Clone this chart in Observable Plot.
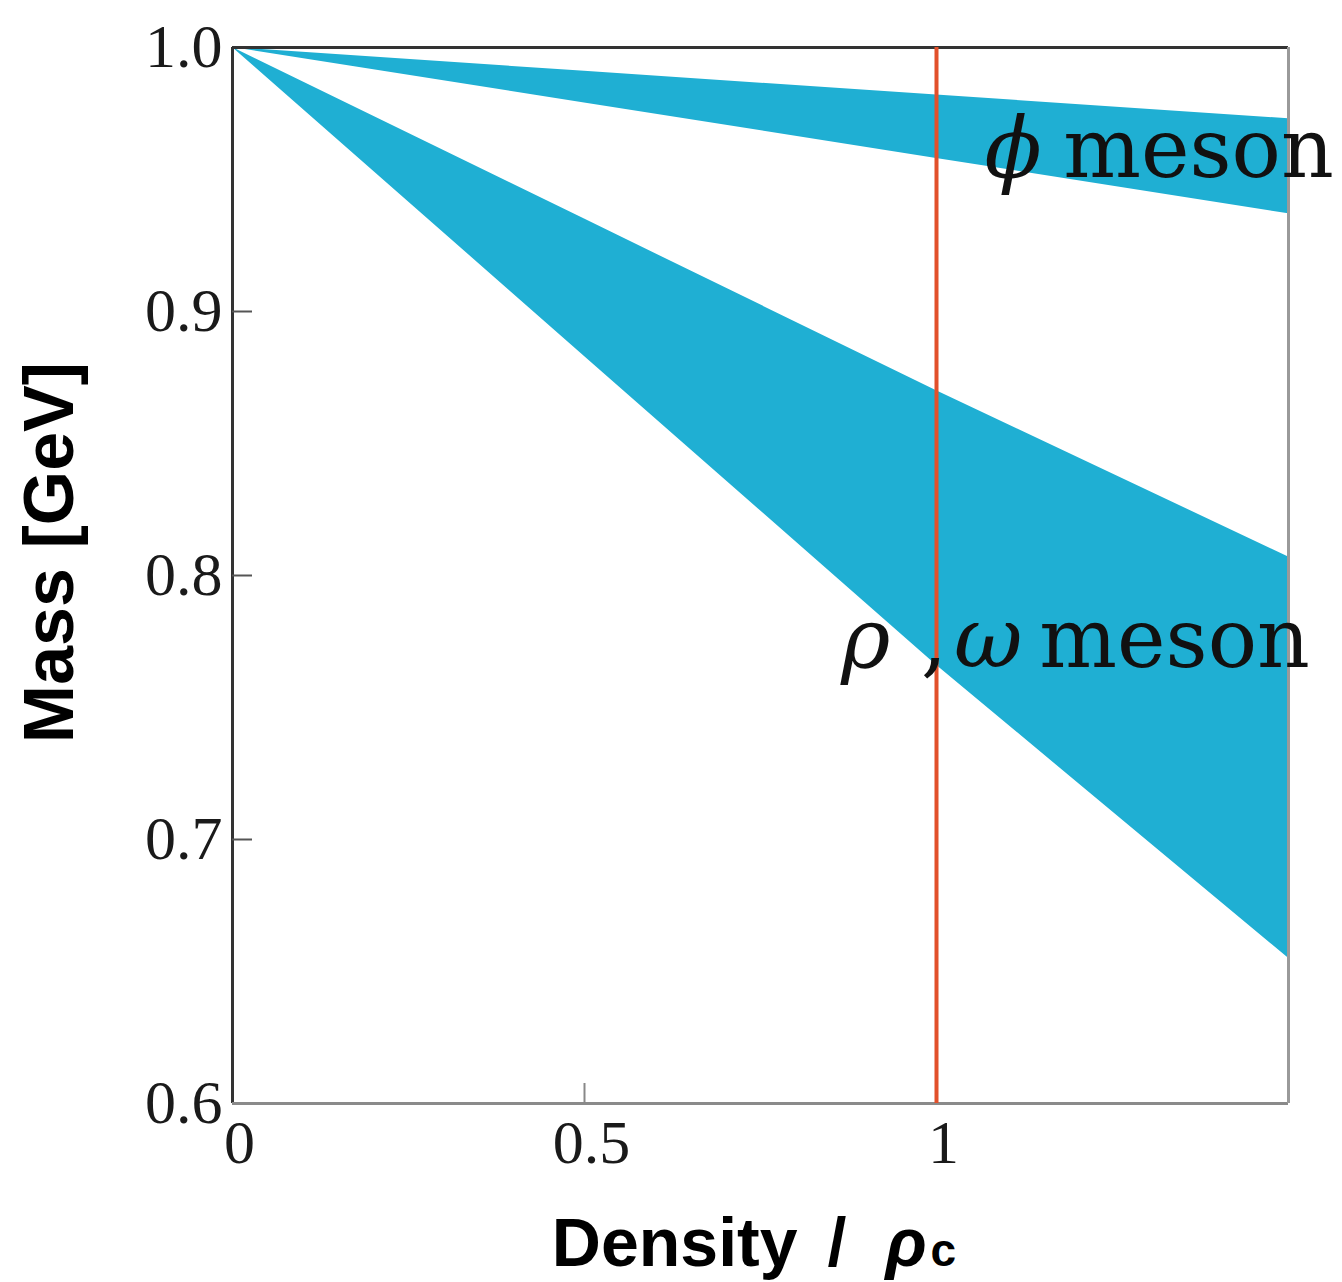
<!DOCTYPE html>
<html>
<head>
<meta charset="utf-8">
<script src="https://cdn.jsdelivr.net/npm/d3@7"></script>
<script src="https://cdn.jsdelivr.net/npm/@observablehq/plot@0.6"></script>
<style>
  html, body { margin: 0; padding: 0; background: #ffffff; }
  #chart svg { display: block; }
</style>
</head>
<body>
<div id="chart"></div>
<script>
// ---- data ----
const density = [0, 0.5, 1.0, 1.5];
const phiUpper = [1.0, 0.991, 0.982, 0.973];
const phiLower = [1.0, 0.979, 0.958, 0.937];
const rhoUpper = [1.0, 0.935, 0.870, 0.807];
const rhoLower = [1.0, 0.883, 0.766, 0.655];
const xTicks = [0, 0.5, 1];
const yTicks = [0.6, 0.7, 0.8, 0.9, 1.0];
const criticalDensity = [1];
const xLabelWord = "Density";
const xLabelSlash = "/";
const xLabelSymbol = "ρ";
const xLabelSub = "c";
const yLabel = "Mass [GeV]";
const phiSymbol = "ϕ";
const rhoSymbol = "ρ";
const omegaSymbol = "ω";
const mesonWord = "meson";

const bands = [
  ...density.map((d, i) => ({meson: "phi", x: d, lo: phiLower[i], hi: phiUpper[i]})),
  ...density.map((d, i) => ({meson: "rho", x: d, lo: rhoLower[i], hi: rhoUpper[i]}))
];

const serif = "'Liberation Serif', 'DejaVu Serif', serif";
const labelSerif = "'DejaVu Serif', serif";
const sans = "'Liberation Sans', Arial, sans-serif";
const bandColor = "#1fafd3";

const titleStyle = {frameAnchor: "bottom", text: d => d, lineAnchor: "bottom", dy: 162,
  fontWeight: "bold", fontFamily: sans, fill: "#000"};

const chart = Plot.plot({
  width: 1342,
  height: 1282,
  marginTop: 47,
  marginLeft: 232,
  marginRight: 54,
  marginBottom: 179,
  x: {domain: [0, 1.5]},
  y: {domain: [0.6, 1.0]},
  style: {background: "#ffffff"},
  marks: [
    Plot.areaY(bands, {x: "x", y1: "lo", y2: "hi", z: "meson", fill: bandColor}),
    // frame
    Plot.ruleY([1.0], {stroke: "#333", strokeWidth: 3}),
    Plot.ruleX([0], {stroke: "#333", strokeWidth: 3}),
    Plot.ruleY([0.6], {stroke: "#8a8a8a", strokeWidth: 3}),
    Plot.ruleX([1.5], {stroke: "#9a9a9a", strokeWidth: 3}),
    // inward ticks
    Plot.axisY(yTicks.filter(d => d > 0.6 && d < 1.0), {anchor: "left", tickSize: -20, text: null, label: null, stroke: "#555", strokeWidth: 2}),
    Plot.axisX(xTicks.filter(d => d > 0 && d < 1), {anchor: "bottom", tickSize: -20, text: null, label: null, stroke: "#888", strokeWidth: 2}),
    // tick labels
    Plot.axisY(yTicks, {anchor: "left", tickSize: 0, tickPadding: 10, label: null, tickFormat: d3.format(".1f"),
      fontSize: 62, fontFamily: serif, fill: "#1a1a1a"}),
    Plot.axisX(xTicks, {anchor: "bottom", tickSize: 0, tickPadding: 15, label: null, tickFormat: d => String(d),
      fontSize: 62, fontFamily: serif, fill: "#1a1a1a", dx: 7}),
    // critical density line
    Plot.ruleX(criticalDensity, {stroke: "#e2502b", strokeWidth: 4}),
    // band labels
    Plot.text([phiSymbol], {x: 1.109, y: 0.9508, text: d => d, textAnchor: "middle", lineAnchor: "bottom",
      fontSize: 84, fontFamily: labelSerif, fontStyle: "italic", fill: "#111"}),
    Plot.text([mesonWord], {x: 1.180, y: 0.9508, text: d => d, textAnchor: "start", lineAnchor: "bottom",
      fontSize: 82, fontFamily: labelSerif, fill: "#111"}),
    Plot.text([rhoSymbol], {x: 0.8645, y: 0.7652, text: d => d, textAnchor: "start", lineAnchor: "bottom",
      fontSize: 84, fontFamily: labelSerif, fontStyle: "italic", fill: "#111"}),
    Plot.text([","], {x: 0.978, y: 0.7652, text: d => d, textAnchor: "start", lineAnchor: "bottom",
      fontSize: 82, fontFamily: labelSerif, fill: "#111"}),
    Plot.text([omegaSymbol], {x: 1.025, y: 0.7652, text: d => d, textAnchor: "start", lineAnchor: "bottom",
      fontSize: 84, fontFamily: labelSerif, fontStyle: "italic", fill: "#111"}),
    Plot.text([mesonWord], {x: 1.146, y: 0.7652, text: d => d, textAnchor: "start", lineAnchor: "bottom",
      fontSize: 82, fontFamily: labelSerif, fill: "#111"}),
    // axis titles
    Plot.text([xLabelWord], {...titleStyle, textAnchor: "end", dx: 37, fontSize: 68}),
    Plot.text([xLabelSlash], {...titleStyle, textAnchor: "start", dx: 67, fontSize: 68}),
    Plot.text([xLabelSymbol], {...titleStyle, textAnchor: "start", dx: 125, fontSize: 68, fontStyle: "italic"}),
    Plot.text([xLabelSub], {...titleStyle, textAnchor: "start", dx: 170, fontSize: 46}),
    Plot.text([yLabel], {frameAnchor: "left", text: d => d, textAnchor: "middle", lineAnchor: "bottom",
      rotate: -90, dx: -160, dy: -23, fontSize: 70, fontWeight: "bold", fontFamily: sans, fill: "#000"})
  ]
});
document.getElementById("chart").appendChild(chart);
</script>
</body>
</html>
